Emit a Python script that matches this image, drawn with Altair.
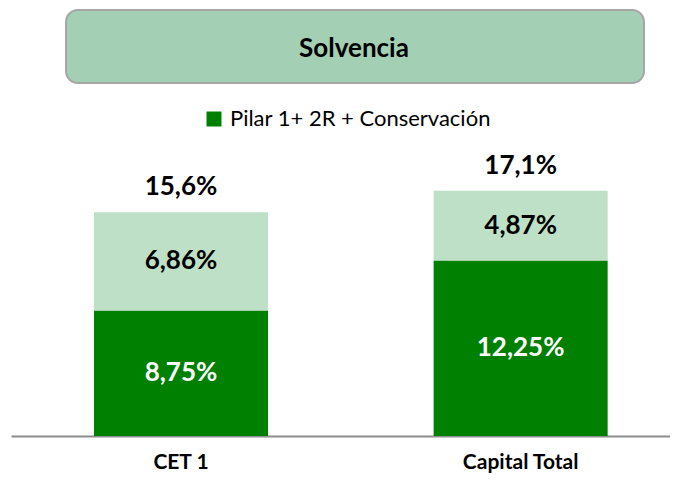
import altair as alt
import pandas as pd

# ---- data ----
categories = ["CET 1", "Capital Total"]
pilar = [8.75, 12.25]            # Pilar 1 + 2R + Conservación
exceso = [6.86, 4.87]            # light-green upper segment
pilar_labels = ["8,75%", "12,25%"]
exceso_labels = ["6,86%", "4,87%"]
total_labels = ["15,6%", "17,1%"]
series_names = ["Pilar 1+ 2R + Conservación", "Exceso"]
title_text = ["Solvencia"]

rows = []
for i, c in enumerate(categories):
    rows.append({"cat": c, "serie": series_names[0], "y0": 0.0, "y1": pilar[i],
                 "mid": pilar[i] / 2, "lab": pilar_labels[i], "tc": "white"})
    rows.append({"cat": c, "serie": series_names[1], "y0": pilar[i], "y1": pilar[i] + exceso[i],
                 "mid": pilar[i] + exceso[i] / 2, "lab": exceso_labels[i], "tc": "black"})
df = pd.DataFrame(rows)
tot = pd.DataFrame({"cat": categories,
                    "total": [p + e for p, e in zip(pilar, exceso)],
                    "lab": total_labels})

FONT = "Lato"
ymax = 29.87

xscale = alt.Scale(domain=categories, paddingInner=0.4876, paddingOuter=0.2139, align=0.571)
yscale = alt.Scale(domain=[0, ymax], nice=False, zero=True)

xenc = alt.X("cat:N", scale=xscale, sort=categories,
             axis=alt.Axis(title=None, ticks=False, domainColor="#8c8c8c", domainWidth=2,
                           labelFont=FONT, labelFontWeight="bold", labelFontSize=21,
                           labelColor="black", labelAngle=0, labelBaseline="middle",
                           labelPadding=26, grid=False))

bars = alt.Chart(df).mark_bar(size=174).encode(
    x=xenc,
    y=alt.Y("y0:Q", scale=yscale, axis=None),
    y2="y1:Q",
    color=alt.Color("serie:N",
                    scale=alt.Scale(domain=series_names, range=["#008000", "#bde0c6"]),
                    legend=alt.Legend(values=[series_names[0]], title=None, orient="none",
                                      legendX=192, legendY=100, symbolType="square",
                                      symbolSize=225, symbolStrokeWidth=0,
                                      labelFont=FONT, labelFontSize=22, labelColor="black",
                                      labelOffset=5, labelLimit=600, padding=0)),
)

seg_text = alt.Chart(df).mark_text(font=FONT, fontSize=26, fontWeight="bold", baseline="middle").encode(
    x=alt.X("cat:N", scale=xscale, sort=categories),
    y=alt.Y("mid:Q", scale=yscale),
    text="lab:N",
    color=alt.Color("tc:N", scale=None),
)

tot_text = alt.Chart(tot).mark_text(font=FONT, fontSize=26, fontWeight="bold", baseline="middle",
                                    dy=-25, color="black").encode(
    x=alt.X("cat:N", scale=xscale, sort=categories),
    y=alt.Y("total:Q", scale=yscale),
    text="lab:N",
)

tdf = pd.DataFrame({"t": title_text})
box = alt.Chart(tdf).mark_rect(cornerRadius=12, fill="#a3d0b4", stroke="#a6a6a6", strokeWidth=2).encode(
    x=alt.value(55), x2=alt.value(633), y=alt.value(2), y2=alt.value(75))
title = alt.Chart(tdf).mark_text(font=FONT, fontSize=26, fontWeight="bold", color="black",
                                 baseline="middle").encode(
    x=alt.value(343), y=alt.value(41), text="t:N")

chart = alt.layer(box, title, bars, seg_text, tot_text).properties(
    width=659, height=428,
    autosize=alt.AutoSizeParams(type="none"),
    padding={"left": 3, "top": 0, "right": 0, "bottom": 38},
).configure(font=FONT, view=alt.ViewConfig(stroke=None))

chart.save("out.html", embed_options={"renderer": "svg", "actions": False})
